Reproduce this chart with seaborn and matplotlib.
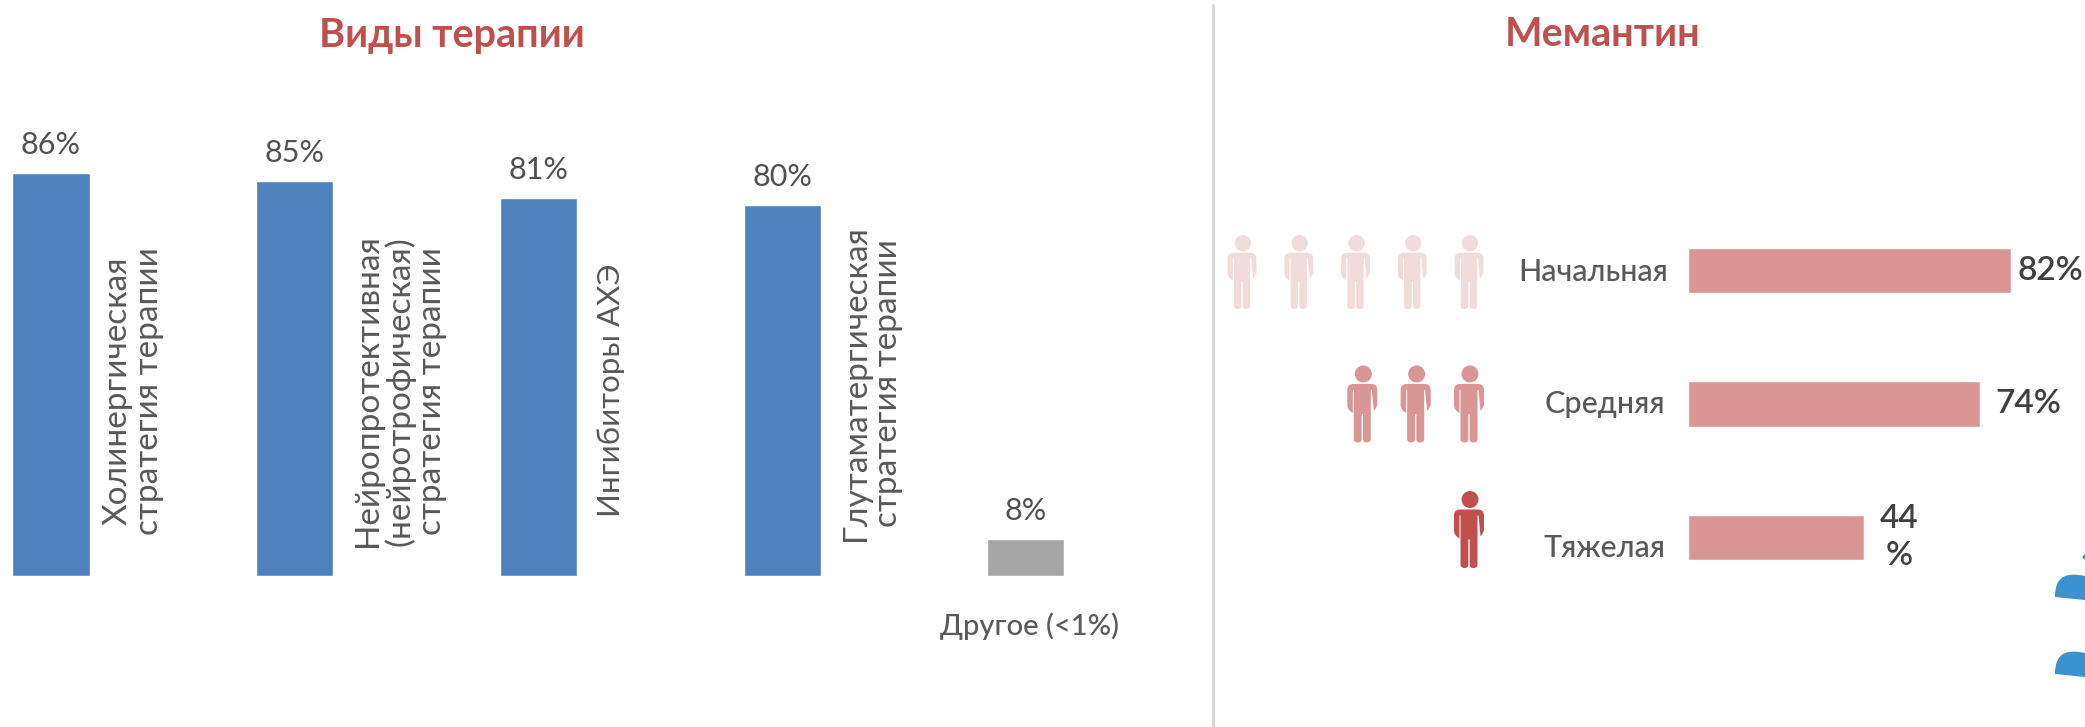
import matplotlib
matplotlib.use('Agg')
import matplotlib.pyplot as plt
import seaborn as sns
import pandas as pd
from matplotlib.markers import MarkerStyle
from matplotlib.patches import PathPatch
from matplotlib.path import Path

# Data
therapy_types = ['Холинергическая\nстратегия терапии',
                 'Нейропротективная\n(нейротрофическая)\nстратегия терапии',
                 'Ингибиторы АХЭ',
                 'Глутаматергическая\nстратегия терапии',
                 'Другое (<1%)']
therapy_values = [86.3, 84.6, 81.0, 79.4, 7.9]
therapy_labels = ['86%', '85%', '81%', '80%', '8%']
stages = ['Начальная', 'Средняя', 'Тяжелая']
memantine_values = [82, 74, 44.7]
memantine_labels = ['82%', '74%', '44\n%']
people_counts = [5, 3, 1]

therapy_colors = ['#4F81BD', '#4F81BD', '#4F81BD', '#4F81BD', '#A5A5A5']
people_colors = ['#F2DCDB', '#D99694', '#C0504D']

W, H = 2085, 727
PX = 0.72  # pixels to points at dpi 100

sns.set_theme(style='white')
plt.rcParams['font.family'] = ['Lato', 'DejaVu Sans']
fig = plt.figure(figsize=(W / 100, H / 100), dpi=100)


def axes_px(left, top, right, bottom):
    return fig.add_axes([left / W, 1 - bottom / H, (right - left) / W, (bottom - top) / H])


# Left chart
ax1 = axes_px(0, 109, 1200, 576)
df1 = pd.DataFrame({'type': therapy_types, 'value': therapy_values})
sns.barplot(data=df1, x='type', y='value', hue='type', palette=therapy_colors,
            width=0.316, legend=False, ax=ax1, saturation=1)
ax1.set_xlim(-51 / 243.7, (1200 - 51) / 243.7)
ax1.set_ylim(0, 100)
ax1.axis('off')
for c, lab in zip(ax1.containers, therapy_labels):
    ax1.bar_label(c, labels=[lab], padding=10, fontsize=22, color='#505050')

label_dx = [82, 105, 73, 90]
label_y = [391, 391, 390, 383]
label_size = [24, 24, 22.5, 24]
for i in range(4):
    ax1.annotate(therapy_types[i], xy=(i, 0), xytext=(label_dx[i] * PX, (576 - label_y[i]) * PX),
                 textcoords='offset points', rotation=90, ha='center', va='center',
                 multialignment='center', fontsize=label_size[i], color='#595959', linespacing=1.05)
ax1.annotate(therapy_types[4], xy=(4, 0), xytext=(3, -50 * PX), textcoords='offset points',
             ha='center', va='center', fontsize=21, color='#595959', fontweight='medium')

# Right chart
ax2 = axes_px(1688, 204, 2082, 604)
df2 = pd.DataFrame({'stage': stages, 'value': memantine_values})
sns.barplot(data=df2, y='stage', x='value', color='#D99694', width=0.341, ax=ax2, saturation=1)
ax2.set_xlim(0, 100)
ax2.set_ylim(2.5, -0.5)
ax2.axis('off')
value_dx = [39, 49, 35]
stage_dy = [-1, 0, -11]
stage_dx = [-20, -23, -23]
for i, v in enumerate(memantine_values):
    ax2.annotate(memantine_labels[i], xy=(v, i), xytext=(value_dx[i] * PX, 0), textcoords='offset points',
                 ha='center', va='center', multialignment='center', fontsize=24, color='#404040',
                 fontweight='semibold', linespacing=1.3, annotation_clip=False)
    ax2.annotate(stages[i], xy=(0, i), xytext=(stage_dx[i] * PX, stage_dy[i] * PX), textcoords='offset points',
                 ha='right', va='center', fontsize=22, color='#595959', fontweight='medium',
                 annotation_clip=False)

# Person pictogram used as a scatter marker
MOVE, LINE, CURVE = Path.MOVETO, Path.LINETO, Path.CURVE3
body = [(MOVE, (-9, 20)), (CURVE, (-15, 20)), (LINE, (-15, 14)), (LINE, (-15, -1)),
        (CURVE, (-15, -6)), (LINE, (-9.5, -9)), (LINE, (-9.5, 14)), (LINE, (-8.5, 14)),
        (LINE, (-8.5, -35)), (CURVE, (-8.5, -38.5)), (LINE, (-4.5, -38.5)),
        (CURVE, (-0.7, -38.5)), (LINE, (-0.7, -35)), (LINE, (-0.7, -10)), (LINE, (0.7, -10)),
        (LINE, (0.7, -35)), (CURVE, (0.7, -38.5)), (LINE, (4.5, -38.5)),
        (CURVE, (8.5, -38.5)), (LINE, (8.5, -35)), (LINE, (8.5, 14)), (LINE, (9.5, 14)),
        (LINE, (11.5, -7)), (CURVE, (15, -3)), (LINE, (15, 0)), (LINE, (15, 14)),
        (CURVE, (15, 20)), (LINE, (9, 20)), (Path.CLOSEPOLY, (-9, 20))]
body_path = Path([v for c, v in body], [c for c, v in body])
head_path = Path.circle((1, 30), 8.5)
person = Path.make_compound_path(body_path, head_path)

# Icon rows: spacing and height differ slightly from row to row
icon_row_y = [0, 1.025, 2]
icon_spacing = [1, 0.94, 1]
icon_height = [74, 77, 77]
ax3 = axes_px(1212, 204, 1500, 604)
for row, count in enumerate(people_counts):
    df3 = pd.DataFrame({'col': [4 - k * icon_spacing[row] for k in range(count)],
                        'row': [icon_row_y[row]] * count})
    sns.scatterplot(data=df3, x='col', y='row', marker=MarkerStyle(person), s=(icon_height[row] * PX) ** 2,
                    color=people_colors[row], linewidth=0, edgecolor='none', ax=ax3, legend=False)
ax3.set_xlim(-30 / 56.75, (1500 - 1242) / 56.75)
ax3.set_ylim((604 - 272) / 128.75, -(272 - 204) / 128.75)
ax3.axis('off')

# Overlay in pixel coordinates: titles, divider, cropped decoration
over = axes_px(0, 0, W, H)
over.set_xlim(0, W)
over.set_ylim(H, 0)
over.axis('off')
over.patch.set_alpha(0)
over.text(452, 35, 'Виды терапии', ha='center', va='center', fontsize=28.5, fontweight='bold', color='#C0504D')
over.text(1603, 35, 'Мемантин', ha='center', va='center', fontsize=28.5, fontweight='bold', color='#C0504D')
over.plot([1212.5, 1212.5], [5, 727], color='#D9D9D9', lw=2.2)
for top in [573, 650]:
    shape = Path([(2055, top + 24), (2055, top), (2070, top), (2085, top + 3), (2085, top + 27), (2055, top + 24)],
                 [MOVE, Path.CURVE4, Path.CURVE4, Path.CURVE4, LINE, Path.CLOSEPOLY])
    over.add_patch(PathPatch(shape, facecolor='#3A92CE', edgecolor='none'))
over.add_patch(PathPatch(Path([(2082, 557), (2085, 554), (2085, 560), (2082, 557)]),
                         facecolor='#3A92CE', edgecolor='none'))

fig.savefig('out.png', dpi=100)
